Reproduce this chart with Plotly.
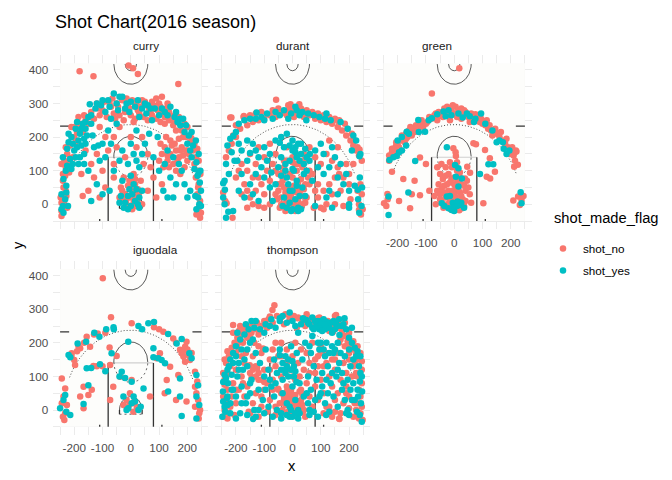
"""Shot chart facets (2016 season) rebuilt with Plotly."""

import numpy as np
import plotly.graph_objects as go

# ---- data: shot locations per player, split by shot_made_flag ----
players = ["curry", "durant", "green", "iguodala", "thompson"]
flag_labels = ["shot_no", "shot_yes"]
flag_colors = ["#F8766D", "#00BFC4"]

curry_no = [
    (-181, 396), (-132, 381), (-8, 413), (8, 405), (25, 388), (168, 358), (110, 320),
    (-120, 300), (-95, 305), (-70, 290), (-50, 300), (-30, 310), (-10, 295), (5, 310), (20, 300),
    (35, 290), (50, 305), (65, 285), (80, 295), (95, 280), (110, 270), (125, 285), (140, 265),
    (-140, 275), (-110, 265), (-85, 260), (-60, 270), (-40, 265), (-20, 275), (0, 265), (15, 255),
    (30, 270), (45, 260), (60, 250), (75, 265), (90, 255), (105, 245), (120, 240), (135, 250),
    (150, 235), (160, 220), (-160, 250), (-175, 230), (-150, 240), (-130, 255), (-100, 280),
    (-55, 255), (25, 280), (70, 275), (100, 300), (130, 300), (-25, 250), (10, 245),
    (-200, 200), (-215, 175), (-190, 215), (-225, 150), (-205, 140), (-230, 110), (-218, 95),
    (-240, 90), (-180, 240), (-195, 185), (-235, 130), (-185, 260), (-165, 265), (-210, 230),
    (180, 220), (195, 200), (210, 185), (220, 160), (205, 150), (230, 140), (225, 120), (240, 100),
    (215, 195), (190, 240), (170, 260), (200, 230), (235, 165),
    (120, 170), (140, 150), (160, 160), (130, 130), (150, 120), (170, 140), (110, 150), (180, 170),
    (100, 130), (160, 100), (140, 190), (125, 200), (185, 145), (200, 130), (190, 110), (175, 90),
    (155, 180), (105, 180), (135, 110),
    (-245, -20), (-235, 0), (-248, 20), (-230, 40), (-240, 70), (-225, -10), (-245, -35), (-232, 85),
    (240, -10), (245, 10), (235, 30), (248, -25), (240, 60), (230, 80), (245, -40),
    (-30, 10), (-15, 0), (0, 20), (10, 5), (25, 15), (-20, 30), (5, 40), (20, -5), (-10, -10),
    (-35, 50), (15, 60), (30, 35), (-5, 70), (40, 0), (-25, 80), (10, 90), (0, 55), (35, 70),
    (-40, 20), (20, 25),
    (-120, 150), (-100, 100), (-130, 80), (-90, 50), (-150, 40), (-110, 20), (-60, 120), (-80, 160),
    (-50, 170), (-140, 120), (-160, 160), (-175, 90), (-170, 25), (-60, 200), (-40, 230), (-90, 200),
    (-110, 230),
    (20, 170), (40, 200), (60, 150), (-20, 140), (0, 200), (70, 110), (80, 80), (60, 40), (90, 20),
    (110, 60), (-60, 80), (45, 120),
    (-200, 230), (-170, 215), (-145, 260), (-115, 285), (-75, 300), (-45, 290), (-15, 315),
    (15, 300), (45, 295), (75, 305), (105, 290), (135, 275), (165, 255), (185, 200), (210, 205),
    (225, 180), (240, 130), (-230, 170), (-245, 120), (-220, 120), (90, 315), (-65, 315),
    (120, 260), (-5, 285), (40, 310), (150, 250), (200, 160), (170, 195),
    (145, 175), (175, 160), (195, 160), (115, 110), (165, 130), (130, 145),
    (-15, 15), (5, -15), (25, 45), (-30, 40), (15, 75), (-10, 55),
    (-238, 50), (-228, 25), (-245, 5), (238, 50), (232, -30), (246, 90),
]
curry_yes = [
    (-60, 330), (-30, 320), (-80, 310), (-145, 298), (-20, 285), (15, 290), (40, 285), (-5, 275),
    (55, 270), (85, 285), (120, 275), (140, 290), (155, 260), (-105, 295), (-90, 275), (-125, 285),
    (-70, 255), (-45, 280), (30, 260), (75, 250), (100, 265), (165, 245), (-15, 300), (60, 295),
    (-210, 200), (-195, 225), (-180, 210), (-220, 185), (-200, 160), (-215, 135), (-225, 165),
    (-185, 190), (-170, 240), (-160, 225), (-150, 260), (-190, 245), (-205, 120), (-230, 100),
    (-238, 75), (-175, 175), (-155, 205), (-140, 240), (-165, 195), (-220, 210),
    (175, 235), (190, 215), (205, 205), (220, 175), (215, 140), (232, 125), (240, 95), (225, 105),
    (200, 180), (185, 255), (160, 275), (240, 150), (210, 160),
    (-130, 170), (-110, 130), (-150, 100), (-90, 140), (-70, 180), (-120, 60), (-100, 30),
    (-140, 10), (-180, 140), (-60, 100), (-165, 120), (-80, 220), (-50, 240), (-30, 160), (-75, 40),
    (0, 180), (10, 150), (-10, 120), (30, 110), (50, 180), (65, 210), (40, 150), (80, 140),
    (100, 100), (115, 40), (130, 20), (95, 200), (20, 220),
    (-20, 5), (0, -5), (15, 10), (-10, 25), (5, 30), (25, 0), (-25, -10), (30, 20), (-5, 45),
    (10, 60), (-30, 70), (20, 45), (40, 40), (-40, 5),
    (-240, -5), (-232, 15), (-245, 30), (-228, 55), (-238, -25), (-222, -5), (242, 0), (238, 20),
    (248, 40), (232, -15), (244, 65), (236, 85), (248, -5),
    (130, 160), (150, 140), (170, 120), (120, 120), (180, 100), (140, 80), (160, 60), (190, 60),
    (200, 20), (210, 40), (150, 20),
    (-205, 180), (-190, 170), (-175, 225), (-160, 245), (-140, 265), (-120, 300), (-100, 310),
    (-75, 290), (-50, 300), (-40, 320), (0, 305), (25, 310), (50, 300), (70, 285), (110, 285),
    (130, 265), (175, 255), (195, 235), (215, 215), (230, 190), (-240, 140), (-225, 115),
    (-195, 140), (-210, 105), (-185, 120), (-160, 180), (-165, 150), (-135, 205), (-115, 175),
    (-10, -15), (30, -10), (-35, 25), (0, 85), (-228, 35), (-245, -15), (228, 25), (246, 100),
    (-100, 180), (-40, 130), (20, 130),
]

durant_no = [
    (-58, 311), (-15, 295), (-220, 258), (-173, 260), (20, 290),
    (-200, 200), (-185, 225), (-160, 235), (-140, 245), (-120, 250), (-100, 255), (-80, 265),
    (-60, 260), (-40, 270), (-20, 265), (0, 275), (20, 270), (40, 260), (60, 265), (80, 255),
    (100, 250), (120, 245), (140, 240), (160, 230), (175, 220), (190, 205), (205, 190), (215, 175),
    (225, 160), (235, 145), (-215, 180), (-225, 160), (-235, 140), (-210, 205), (-130, 270),
    (-70, 280), (-10, 285), (50, 280), (110, 265), (150, 255), (185, 240), (230, 170), (245, 130),
    (-150, 150), (-130, 120), (-160, 100), (-140, 80), (-120, 170), (-100, 140), (-90, 100),
    (-110, 60), (-130, 40), (-150, 20), (-170, 60), (-180, 120), (-80, 180), (-60, 150), (-70, 120),
    (-50, 90), (-40, 60), (-60, 30), (-80, 0), (-100, -10), (-30, 130), (-20, 170), (0, 140),
    (20, 120), (40, 150), (60, 170), (80, 140), (100, 120), (120, 150), (140, 130), (160, 110),
    (150, 80), (130, 60), (110, 40), (90, 20), (100, -10), (120, 0), (140, 30), (170, 40), (180, 80),
    (190, 120), (200, 90), (160, 170), (130, 190), (70, 90), (60, 60), (80, 40), (50, 20),
    (-180, 30), (-200, 80), (-120, -5), (-160, -10),
    (-30, 0), (-20, 10), (-10, -5), (0, 15), (10, 0), (20, 10), (30, -5), (-40, 20), (-25, 35),
    (-5, 30), (15, 35), (35, 25), (-15, 50), (5, 55), (25, 50), (-35, 70), (0, 80), (30, 75),
    (-10, 90), (15, 100), (-45, -10), (45, 5), (-20, -15), (40, 45), (-50, 40), (55, 80),
    (-30, 110), (10, 120),
    (240, 60), (245, 30), (235, 0), (248, -15), (242, -30), (230, 40), (-245, 35), (-238, 10),
    (-212, -40), (180, -5), (205, 15),
    (-200, 235), (-150, 265), (-110, 275), (-50, 285), (-25, 275), (5, 260), (30, 285), (70, 275),
    (90, 270), (130, 260), (165, 250), (195, 225), (210, 210), (220, 190), (237, 163), (161, 248),
    (-216, 258), (-172, 263), (24, 298), (-7, 298),
    (-50, 60), (-40, 0), (-30, 50), (-15, 25), (-5, 5), (5, 45), (15, -10), (25, 35), (35, 0),
    (45, 60), (-55, 15), (20, 65), (-25, -20), (10, -20), (-35, 95), (35, 110), (-60, 100),
    (-80, 70), (-100, 30), (-140, 0), (-160, 40), (-190, 100), (90, 60), (110, -15), (150, 0),
    (165, 90), (200, 60), (215, 120), (60, 100), (75, -10), (-120, 80), (235, -17), (-233, 3),
    (-20, 130), (45, 135), (0, 125),
]
durant_yes = [
    (-190, 240), (-170, 250), (-150, 255), (-130, 255), (-110, 260), (-90, 270), (-60, 275),
    (-30, 280), (-5, 270), (15, 280), (35, 275), (55, 270), (75, 265), (95, 260), (115, 255),
    (135, 250), (170, 245), (195, 225), (-200, 215), (-220, 195), (-215, 155), (-230, 175),
    (-235, 120), (-205, 130), (-225, 90), (-240, 70), (215, 205), (225, 190), (240, 150), (210, 160),
    (-140, 180), (-120, 140), (-100, 170), (-80, 150), (-60, 190), (-40, 200), (-20, 210), (0, 190),
    (10, 170), (20, 180), (30, 150), (0, 160), (-10, 130), (15, 140), (40, 120), (60, 130),
    (80, 160), (100, 180), (90, 110), (70, 70), (50, 100), (110, 90), (130, 110), (150, 140),
    (170, 120), (180, 60), (200, 40), (160, 30), (140, -10), (120, 20), (-110, 110), (-130, 90),
    (-150, 60), (-160, 130), (-180, 90), (-190, 40), (-140, 30), (-100, 80), (-80, 50), (-60, 60),
    (-70, 10), (-120, 10), (-210, -20), (-235, -40), (-240, 0), (-245, 20),
    (-20, -10), (0, -15), (20, -10), (-10, 5), (10, 15), (-30, 20), (25, 25), (0, 40), (-15, 60),
    (15, 70), (35, 50), (-40, 85), (40, 90), (5, 100), (-25, 100), (20, -20), (-5, -20),
    (238, 80), (246, 50), (232, 15), (244, -5), (236, -25), (200, 0), (220, 55),
    (-209, 203), (-190, 180), (-180, 160), (-160, 190), (-150, 153), (-127, 273), (-100, 250),
    (-70, 255), (-45, 265), (-15, 255), (10, 290), (25, 265), (49, 250), (120, 270), (-245, 63),
    (-239, 43), (-227, -22), (237, 143), (231, 43), (-45, 183), (-30, 170), (-10, 175), (10, 155),
    (30, 180), (45, 165), (61, 150), (-40, 140), (-25, 120), (0, 105), (25, 130), (50, 140),
    (-50, 110), (-10, 40), (15, 55), (-20, 80), (30, -15), (-35, -5), (45, 25), (110, 150),
    (140, 170), (160, 80), (190, 90), (200, -10), (130, 40), (-90, 130), (-170, 20), (-195, 130),
    (-130, 160), (-75, 95), (80, -5),
]

green_no = [
    (-79, 330), (18, 405),
    (-220, 155), (-215, 165), (-205, 175), (-200, 180), (-195, 170), (-185, 190), (-180, 200),
    (-170, 210), (-160, 220), (-150, 205), (-145, 225), (-135, 235), (-120, 240), (-110, 230),
    (-95, 245), (-80, 255), (-70, 265), (-60, 250), (-50, 265), (-40, 260), (-30, 275), (-20, 265),
    (-10, 280), (0, 270), (5, 290), (10, 260), (15, 280), (20, 270), (30, 265), (40, 275), (50, 260),
    (60, 270), (70, 255), (80, 250), (90, 245), (100, 240), (110, 235), (120, 225), (130, 220),
    (140, 215), (150, 210), (160, 200), (170, 190), (180, 180), (190, 170), (200, 160), (210, 145),
    (220, 157), (214, 154), (203, 150), (-225, 140), (-230, 130), (-210, 150), (-190, 160),
    (-175, 185), (-165, 200), (-128, 225), (-88, 260), (-15, 250), (25, 255), (55, 245), (85, 262),
    (115, 250), (135, 205), (195, 150), (225, 118), (215, 130),
    (-205, 185), (-185, 205), (-155, 230), (-115, 250), (-65, 270), (-35, 285), (-5, 295),
    (25, 285), (45, 265), (65, 260), (95, 255), (105, 245), (125, 235), (145, 225), (165, 215),
    (185, 195), (205, 170), (218, 160), (-220, 165), (-230, 145), (-200, 165), (-170, 195),
    (-140, 215), (-100, 240), (-55, 275), (-25, 290), (35, 280), (75, 268),
    (-220, 97), (-180, 75), (-121, 27), (-156, -12), (-248, 3), (-236, 31), (-121, 139), (-3, 167),
    (6, 144), (68, 182), (77, 179), (109, 162), (126, 137), (144, 97), (115, 82), (127, 77),
    (46, 112), (56, 94), (38, 77), (103, 3), (209, 11), (212, 112), (-195, 10), (-240, -5),
    (-235, 15), (226, 23), (238, 13), (232, -2), (245, 25), (-140, 70), (-150, 30), (-100, 120),
    (-88, 40),
    (-60, 40), (-50, 30), (-45, 10), (-35, 55), (-30, 20), (-25, 0), (-20, 40), (-15, 65), (-10, 15),
    (-5, -5), (0, 30), (5, 50), (10, 10), (15, -10), (20, 35), (25, 60), (30, 15), (35, -5),
    (40, 40), (-40, 75), (-20, 90), (0, 80), (20, 95), (-8, 110), (10, 125), (-30, 110), (45, 70),
    (-55, 60), (-65, 0), (-70, 25), (55, 30), (-12, -15), (28, -12), (0, 0), (-28, 30), (12, 70),
    (-50, 90),
    (-45, 45), (-35, 35), (-25, 60), (-15, 10), (-5, 40), (5, 20), (15, 45), (25, 25), (35, 55),
    (-10, 75), (10, 100), (-20, -5), (30, -2), (40, 10), (-50, 15), (50, 50), (-30, 85), (0, 60),
    (20, 80), (-15, 125), (5, 155), (-60, 110), (-45, 120), (60, 5), (-38, -10), (18, -18),
]
green_yes = [
    (-229, 132), (-203, 144), (-162, 35), (-232, -32), (-232, 23), (-138, 129), (-26, 170),
    (121, 119), (138, 119), (91, 90), (3, 117), (15, 107), (235, 36), (238, 3),
    (-200, 190), (-185, 200), (-168, 216), (-160, 210), (-127, 251), (-125, 215), (-103, 216),
    (-79, 256), (-38, 276), (-30, 262), (-10, 265), (30, 258), (45, 270), (55, 262), (75, 255),
    (95, 270), (150, 185), (160, 190), (175, 165), (185, 150), (-195, 155), (-215, 140), (195, 160),
    (-44, 3), (-9, -17), (15, 53), (6, 82), (21, -2), (-26, 23), (27, 77), (-5, 5), (10, -5),
    (0, -20), (-35, -5), (25, 5), (-15, 25),
    (-90, 250), (-60, 268), (-20, 280), (15, 270), (70, 245), (110, 240), (135, 220), (172, 185),
    (-170, 175), (-185, 160), (-5, -10), (12, 8), (-20, -12), (35, -10),
]

iguodala_no = [
    (-99, 392), (-70, 276), (3, 258), (82, 246), (115, 233), (-209, 169), (-185, 190), (-179, 184),
    (-156, 218), (-117, 228), (-144, 188), (-200, 149), (-197, 134), (-167, 69), (-138, 60),
    (-132, 131), (-179, 40), (-167, 5), (-73, 134), (-75, 186), (-50, 161),
    (174, 179), (180, 169), (186, 159), (192, 188), (197, 203), (203, 164), (209, 149), (192, 144),
    (150, 213), (103, 169), (91, 154), (139, 129), (168, 104), (127, 89), (227, 114),
    (-15, 30), (-3, 50), (21, 10), (-26, 15), (9, -5), (3, 89), (-38, 99), (-62, 69), (68, 40),
    (-73, 30), (-244, 20), (-238, 40), (-232, -10), (-235, -30), (-226, 15), (-232, 64), (-244, 94),
    (227, 69), (232, 50), (238, 30), (227, 10), (242, -10), (197, 25), (-210, 160), (-190, 175),
    (-165, 200), (-130, 225), (160, 200), (185, 175), (200, 180), (215, 170), (-120, 130),
    (-100, 130), (-150, 45), (-240, -20), (245, 0), (235, 85), (240, -25), (120, 50), (-90, 230),
    (100, 240), (-5, 15), (12, 25), (160, 30),
]
iguodala_yes = [
    (-61, 246), (-87, 240), (27, 250), (62, 258), (82, 262), (132, 226), (-220, 164), (-188, 198),
    (-129, 230), (-111, 218), (-214, 157), (-158, 203), (-156, 124), (-150, 74), (-167, 18),
    (-109, 136), (-68, 169), (-9, 203), (162, 198), (207, 169), (215, 154), (180, 211), (80, 184),
    (97, 154), (121, 139), (109, 149), (80, 157), (174, 94), (132, 55), (232, 104), (3, 20),
    (15, 25), (-26, 40), (-9, 5), (27, 0), (3, 84), (-32, 114), (45, 64), (-232, 45), (-250, 5),
    (-214, -15), (232, 40), (238, 74), (232, -25), (174, 40), (180, -18), (-238, 30), (-228, -5),
    (-60, 240), (40, 240), (-40, 100), (-20, 95), (10, 40), (-15, 0), (35, 10), (-140, 125),
    (242, 15), (-90, 115),
]

thompson_no = [
    (-235, 140), (-225, 160), (-215, 185), (-205, 200), (-195, 215), (-180, 225), (-170, 240),
    (-160, 250), (-150, 235), (-140, 255), (-125, 260), (-110, 250), (-100, 265), (-85, 270),
    (-70, 260), (-64, 312), (-71, 298), (-55, 280), (-40, 275), (-25, 285), (-10, 270), (5, 280),
    (20, 275), (35, 265), (50, 285), (65, 270), (80, 260), (95, 275), (110, 255), (125, 265),
    (140, 250), (150, 280), (160, 245), (175, 235), (185, 220), (195, 205), (205, 190), (215, 180),
    (225, 165), (235, 150), (-190, 180), (-175, 200), (-160, 215), (-145, 230), (-130, 240),
    (-200, 170), (-220, 130), (-230, 110), (-240, 90), (-120, 225), (-90, 245), (45, 250),
    (130, 235), (170, 210), (200, 230), (185, 260), (-185, 250), (-210, 230), (-30, 255), (15, 245),
    (-200, 120), (-180, 100), (-170, 140), (-150, 110), (-140, 160), (-130, 130), (-120, 90),
    (-110, 170), (-100, 120), (-90, 80), (-80, 150), (-70, 180), (-60, 130), (-50, 160), (-40, 200),
    (-30, 140), (-20, 180), (-10, 120), (0, 160), (10, 200), (20, 140), (30, 180), (40, 120),
    (50, 170), (60, 140), (70, 200), (80, 110), (90, 160), (100, 190), (110, 130), (120, 170),
    (130, 100), (140, 150), (150, 120), (160, 170), (170, 90), (180, 140), (190, 110), (200, 150),
    (-190, 60), (-170, 40), (-160, 70), (-140, 20), (-130, 50), (-110, 10), (-100, 60), (-80, 30),
    (-70, 90), (-50, 60), (-40, 100), (-30, 30), (-20, 70), (-10, 10), (0, 40), (10, 90), (20, 20),
    (30, 60), (40, 0), (50, 80), (60, 40), (70, 10), (80, 70), (90, 30), (100, 90), (110, 50),
    (120, 10), (140, 70), (150, 30), (160, 50), (170, -10), (180, 20), (190, 70), (200, 40),
    (210, 100), (-150, -10), (-120, -20), (-90, -5), (-60, -15), (-25, -10), (15, -15), (45, -20),
    (110, -10), (140, -20), (165, -25), (-200, 20), (-210, 80), (-180, 160), (0, 100), (-5, 60),
    (25, 100), (-45, -5), (5, -5), (-15, 40), (35, 45),
    (-245, -20), (-240, 0), (-235, 20), (-245, 40), (-230, 60), (-240, 75), (-225, -10), (-215, 40),
    (235, -25), (240, -10), (245, 10), (230, 20), (240, 40), (235, 60), (245, 80), (225, 0),
    (215, -20), (248, -30), (230, 100), (245, 120),
    (-80, 278), (-174, 243), (-10, 278), (19, 273), (90, 273), (154, 283), (166, 253), (143, 233),
    (-210, 253), (-190, 235), (-165, 225), (-150, 215), (-135, 200), (-120, 190), (-104, 183),
    (-195, 195), (-180, 205), (-230, 175), (-240, 150), (-245, 110), (-235, 80), (180, 245),
    (200, 200), (215, 205), (230, 190), (240, 170), (245, 145), (220, 140),
    (-151, 133), (-140, 120), (-130, 100), (-120, 110), (-110, 90), (-100, 83), (-145, 95),
    (-125, 125), (-51, 63), (-40, 50), (-30, 40), (-20, 55), (-10, 30), (0, 20), (10, 45), (20, 10),
    (30, 30), (37, -5), (-45, 20), (-35, 0), (-15, -5), (0, -10), (15, 25), (25, 55), (-25, 15),
    (5, 5), (-5, 50), (35, 15), (60, 110), (80, 150), (100, 170), (90, 130), (120, 140), (150, 150),
    (165, 200), (185, 190), (200, 170), (215, 130), (225, 110), (235, 100), (190, 50), (200, 5),
    (220, 20), (230, -20), (166, -27), (150, -5), (130, 10), (-80, 120), (-60, 200), (-40, 160),
    (-20, 140), (-165, 170), (-175, 80), (-200, 60), (-220, 10), (-230, -25), (-205, -15),
    (-155, -5), (-110, 40), (-70, 60), (-60, 10),
]
thompson_yes = [
    (-230, 120), (-220, 150), (-210, 170), (-200, 190), (-185, 210), (-170, 225), (-155, 240),
    (-135, 245), (-115, 240), (-95, 255), (-75, 270), (-60, 245), (-45, 265), (-20, 260), (0, 265),
    (10, 250), (30, 255), (55, 260), (70, 245), (85, 255), (95, 240), (100, 265), (105, 250),
    (110, 270), (115, 240), (120, 255), (125, 245), (135, 260), (145, 265), (155, 255), (165, 270),
    (175, 250), (190, 240), (200, 215), (210, 200), (220, 185), (230, 175), (240, 160), (-240, 105),
    (-195, 230), (-165, 255), (-130, 265), (-100, 230), (-80, 250), (-35, 280), (40, 270),
    (70, 275), (90, 265), (150, 240), (180, 255), (20, 230), (-10, 290), (210, 245),
    (-190, 140), (-175, 120), (-160, 130), (-145, 90), (-130, 170), (-115, 140), (-100, 100),
    (-95, 180), (-85, 120), (-75, 70), (-65, 150), (-55, 110), (-45, 180), (-35, 90), (-25, 160),
    (-15, 100), (-5, 190), (5, 130), (15, 170), (25, 80), (35, 150), (45, 200), (55, 100),
    (65, 170), (75, 130), (85, 90), (95, 180), (105, 110), (115, 160), (125, 130), (135, 80),
    (145, 170), (155, 100), (165, 140), (175, 110), (185, 160), (195, 90), (205, 130), (215, 150),
    (100, 200), (120, 200), (140, 190), (160, 200), (-180, 70), (-165, 20), (-150, 50), (-135, 0),
    (-120, 60), (-105, 30), (-85, 10), (-65, 40), (-55, 0), (-35, 50), (-20, 20), (-5, 0), (10, 30),
    (25, -10), (40, 40), (55, 20), (65, 60), (75, -5), (95, 40), (105, 70), (115, 20), (125, 50),
    (145, 40), (160, 10), (175, 60), (185, 30), (195, 0), (205, 60), (215, 80), (-200, 40),
    (-185, -10), (-160, -15), (-130, -20), (-100, -10), (-70, -20), (-40, -25), (-10, -20),
    (20, -25), (60, -15), (90, -20), (130, -5), (200, -15), (-195, 100), (0, 70), (-25, 120),
    (50, 50),
    (-248, -20), (-240, 10), (-232, 35), (-246, 55), (-228, 80), (-238, -5), (-220, 20), (-215, 60),
    (-245, 25), (238, -15), (242, 20), (232, 40), (246, 55), (238, 85), (228, -5), (245, -35),
    (220, 30), (240, 110),
    (-145, 265), (-45, 273), (37, 273), (119, 263), (184, 273), (49, 268), (60, 255), (75, 240),
    (90, 250), (105, 235), (130, 245), (140, 230), (150, 260), (160, 250), (166, 223), (115, 255),
    (95, 260), (80, 265), (-200, 160), (-190, 120), (-180, 180), (-170, 150), (-160, 180),
    (-150, 200), (-140, 210), (-210, 140), (-225, 130), (-235, 95), (-215, 105), (-45, 163),
    (-35, 140), (-25, 110), (-15, 150), (-5, 120), (5, 100), (14, 83), (-40, 120), (-20, 130),
    (0, 145), (10, 115), (60, 190), (70, 220), (90, 200), (110, 180), (130, 170), (150, 180),
    (170, 170), (200, 180), (225, 160), (235, 130), (245, 100), (230, 60), (210, 30), (190, -10),
    (180, 80), (160, 120), (140, 110), (120, 90), (100, 50), (80, 30), (60, 0), (-40, -10),
    (-20, -15), (0, -20), (20, 0), (-10, 10), (10, -10), (-245, 83), (-230, 40), (-220, -10),
    (-200, -25), (-180, 20), (-160, 40), (-150, 80), (-139, -27), (-120, 0), (-95, 60), (-80, 90),
    (-60, 80), (119, -15), (-230, 15), (-210, 60),
]

shots = {
    "curry": (curry_no, curry_yes),
    "durant": (durant_no, durant_yes),
    "green": (green_no, green_yes),
    "iguodala": (iguodala_no, iguodala_yes),
    "thompson": (thompson_no, thompson_yes),
}

# axis ticks
x_ticks = [-200, -100, 0, 100, 200]
x_minor = [-250, -150, -50, 50, 150, 250]
y_ticks = [0, 100, 200, 300, 400]
y_minor = [-50, 50, 150, 250, 350]


# ---- court geometry (court units, hoop at origin) ----
def arc(cx, cy, r, a0, a1, n=60):
    t = np.radians(np.linspace(a0, a1, n))
    return list(cx + r * np.cos(t)), list(cy + r * np.sin(t))


court_solid = [
    arc(0, 417.5, 60, 180, 360),
    arc(0, 417.5, 20, 180, 360),
    arc(0, 142.5, 60, 0, 180),
    arc(0, 0, 40, 0, 180),
]
court_dotted = [arc(0, 0, 237.5, 23, 157, 120)]
court_dashed = [arc(0, 142.5, 60, 180, 360), ([-40, 40], [-12.5, -12.5])]
court_dark = [
    ([-80, -80], [-50, 140]), ([80, 80], [-50, 140]),
    ([-250, -218], [232.5, 232.5]), ([218, 250], [232.5, 232.5]),
    ([-110, -110], [-50, -44]), ([110, 110], [-50, -44]),
    ([-40, -40], [0, -12.5]), ([40, 40], [0, -12.5]),
]
court_light = [([-80, 80], [140, 140])]

# ---- panel placement (page pixels; the page body adds an 8px margin) ----
OFF = 8
W, H = 672 - OFF, 480 - OFF
col_px = [(53.3, 208.3), (215.0, 370.0), (376.7, 531.7)]
row_px = [(55.3, 229.0), (261.0, 434.7)]
x_range = [-274, 274]
y_range = [-73.5, 443.5]


def px_x(v):
    return (v - OFF) / W


def px_y(v):
    return 1 - (v - OFF) / H


def join(segments):
    xs, ys = [], []
    for sx, sy in segments:
        xs += list(sx) + [None]
        ys += list(sy) + [None]
    return xs, ys


font = "Liberation Sans, Arial, sans-serif"
fig = go.Figure()

for i, name in enumerate(players):
    row, col = divmod(i, 3)
    n = "" if i == 0 else str(i + 1)
    xa, ya = "x" + n, "y" + n
    (l, r), (t, b) = col_px[col], row_px[row]

    show_x = name in ("green", "iguodala", "thompson")
    show_y = col == 0
    axis_font = dict(family=font, size=11.7, color="#4D4D4D")
    fig.update_layout({
        "xaxis" + n: dict(
            domain=[px_x(l), px_x(r)], range=x_range, anchor=ya,
            tickvals=x_ticks, ticktext=[str(v) for v in x_ticks],
            showticklabels=show_x, tickfont=axis_font, ticks="", ticklabelstandoff=5,
            showgrid=True, gridcolor="#EBEBEB", gridwidth=1.1, zeroline=False, showline=False,
            minor=dict(tickvals=x_minor, showgrid=True, gridcolor="#EBEBEB", gridwidth=0.55),
            fixedrange=True,
        ),
        "yaxis" + n: dict(
            domain=[px_y(b), px_y(t)], range=y_range, anchor=xa,
            tickvals=y_ticks, ticktext=[str(v) for v in y_ticks],
            showticklabels=show_y, tickfont=axis_font, ticks="", ticklabelstandoff=4,
            showgrid=True, gridcolor="#EBEBEB", gridwidth=1.1, zeroline=False, showline=False,
            minor=dict(tickvals=y_minor, showgrid=True, gridcolor="#EBEBEB", gridwidth=0.55),
            fixedrange=True,
        ),
    })

    # court image background
    fig.add_shape(type="rect", xref=xa, yref=ya, x0=-250, x1=250, y0=-50, y1=420,
                  fillcolor="#FDFDFB", line_width=0, layer="between")

    for segs, color, width, dash in [
        (court_light, "#CFCFCF", 1.2, "solid"),
        (court_solid, "#111111", 0.7, "solid"),
        (court_dotted, "#222222", 0.8, "1px,2px"),
        (court_dashed, "#222222", 0.7, "2px,3px"),
        (court_dark, "#333333", 1.3, "solid"),
    ]:
        cx, cy = join(segs)
        fig.add_trace(go.Scatter(
            x=cx, y=cy, xaxis=xa, yaxis=ya, mode="lines",
            line=dict(color=color, width=width, dash=dash),
            hoverinfo="skip", showlegend=False,
        ))

    for pts, label, color in zip(shots[name], flag_labels, flag_colors):
        fig.add_trace(go.Scatter(
            x=[p[0] for p in pts], y=[p[1] for p in pts], xaxis=xa, yaxis=ya,
            mode="markers", marker=dict(size=6.5, color=color, line_width=0),
            name=label, legendgroup=label, showlegend=(i == 0),
        ))

    # facet strip label
    fig.add_annotation(x=px_x((l + r) / 2), y=px_y(45 if row == 0 else 250),
                       xref="paper", yref="paper", text=name, showarrow=False,
                       yanchor="middle", font=dict(family=font, size=11.7, color="#1A1A1A"))

# plot title and axis titles
fig.add_annotation(x=px_x(53.3), y=px_y(9.5), xref="paper", yref="paper",
                   text="Shot Chart(2016 season)", showarrow=False,
                   xanchor="left", yanchor="top",
                   font=dict(family=font, size=18, color="black"))
fig.add_annotation(x=px_x(291.5), y=px_y(466), xref="paper", yref="paper", text="x",
                   showarrow=False, xanchor="center", yanchor="middle",
                   font=dict(family=font, size=14.7, color="black"))
fig.add_annotation(x=0, y=px_y(245), xref="paper", yref="paper", text="y",
                   showarrow=False, textangle=-90, xanchor="left", yanchor="middle",
                   font=dict(family=font, size=14.7, color="black"))
fig.add_annotation(x=px_x(552), y=px_y(218), xref="paper", yref="paper",
                   text="shot_made_flag", showarrow=False, xanchor="left", yanchor="middle",
                   font=dict(family=font, size=14.7, color="black"))

fig.update_layout(
    width=W, height=H,
    margin=dict(l=0, r=0, t=0, b=0),
    paper_bgcolor="white", plot_bgcolor="white",
    legend=dict(
        x=px_x(543), xanchor="left", y=px_y(234), yanchor="top",
        font=dict(family=font, size=11.7, color="black"),
        traceorder="grouped", tracegroupgap=3, bgcolor="rgba(0,0,0,0)",
    ),
    showlegend=True,
)

fig.write_html("out.html", config={"displayModeBar": False})
